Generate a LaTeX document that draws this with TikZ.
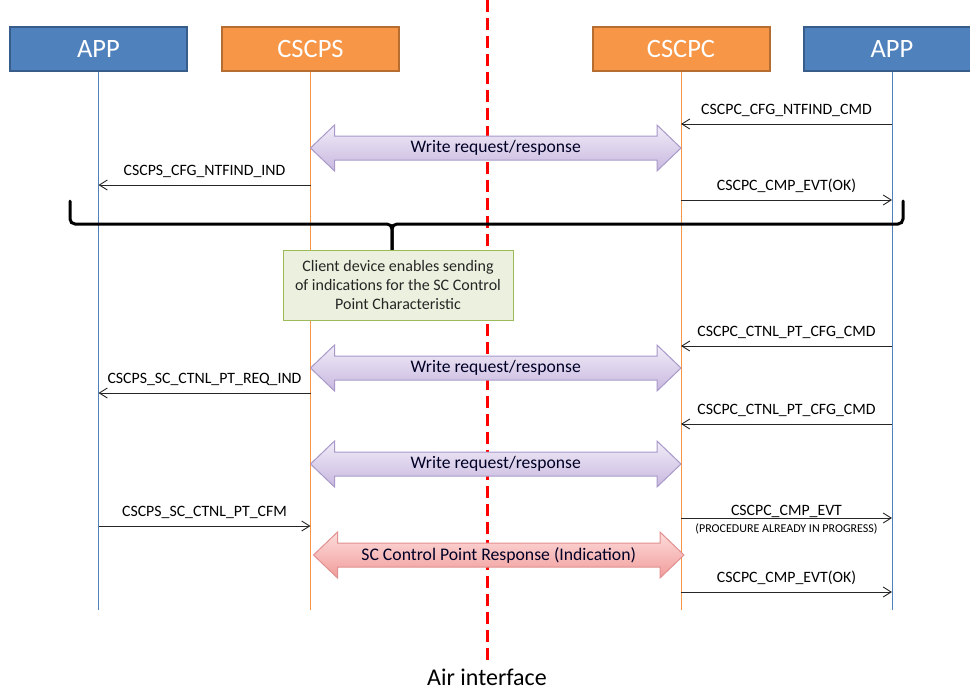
\documentclass[tikz,border=0pt]{standalone}
\usepackage{fontspec}
\setmainfont{Carlito}
\usetikzlibrary{arrows.meta,calc,positioning}
\definecolor{appblue}{HTML}{4F81BD}
\definecolor{appborder}{HTML}{385D8A}
\definecolor{cscorange}{HTML}{F79646}
\definecolor{cscborder}{HTML}{B66D31}
\definecolor{notefill}{HTML}{EBF1DE}
\definecolor{noteborder}{HTML}{9BBB59}
\definecolor{wrborder}{HTML}{A899C9}
\definecolor{wrtop}{HTML}{F1ECF8}
\definecolor{wrbottom}{HTML}{C8B8DF}
\definecolor{indborder}{HTML}{E0908E}
\definecolor{indtop}{HTML}{FDDCDB}
\definecolor{indbottom}{HTML}{F09C9A}
\definecolor{airred}{HTML}{FF0000}

% fat double arrow between two lifelines: #1 style, #2 from, #3 to, #4 text, #5 name
\newcommand\bigarrow[5]{%
  \draw[#1] let \p1=(#2), \p2=(#3) in
    (\p1) -- ++(24,-23) -- ++(0,11) -- ++(\x2-\x1-48pt,0pt) -- ++(0,-11)
    -- (\p2) -- ++(-24,23) -- ++(0,-11) -- ++(\x1-\x2+48pt,0pt) -- ++(0,11) -- cycle;
  \node[#1text](#5) at ($(#2)!.5!(#3)$) {#4};
}

\begin{document}
\begin{tikzpicture}[x=1pt,y=-1pt,% pixel grid, y going down
    every node/.style={
      align=center,  % "\\" breaks lines
      inner sep=0pt
    },
    head/.style={rectangle, minimum width=177pt, minimum height=44pt, line width=2pt,
      text=white, font=\fontsize{26.5}{30}\selectfont},
    apphead/.style={head, draw=appborder, fill=appblue},
    profhead/.style={head, draw=cscborder, fill=cscorange},
    appline/.style={draw=appblue, line width=0.9pt},
    profline/.style={draw=cscorange, line width=0.9pt},
    msg/.style={draw=black!85, line width=0.9pt, -{Straight Barb[length=8pt,width=10pt]}},
    lbl/.style={midway, above=7pt, font=\fontsize{15.8}{18}\selectfont},
    wrarrow/.style={draw=wrborder, line width=1pt, top color=wrtop, bottom color=wrbottom},
    wrarrowtext/.style={font=\fontsize{17.6}{20}\selectfont, text=black!85!blue},
    indarrow/.style={draw=indborder, line width=1pt, top color=indtop, bottom color=indbottom},
    indarrowtext/.style={font=\fontsize{17.7}{20}\selectfont, text=black!85!blue},
    bracepath/.style={draw=black, line width=3pt, line cap=round, rounded corners=5pt},
    note/.style={rectangle, draw=noteborder, fill=notefill, line width=1pt,
      minimum width=230pt, minimum height=70pt, font=\fontsize{16}{19}\selectfont, text=black!85}
  ]
  \useasboundingbox (0,0) rectangle (970,691);

  % air interface
  \node[font=\fontsize{24}{28}\selectfont](air) at (487,677) {Air interface};
  \coordinate (airtop) at (487,0);
  \draw[airred, line width=3pt, dash pattern=on 12pt off 6pt] (airtop) -- ([yshift=5pt]air.north);

  % heads and lifelines
  \node[apphead](app1) at (98.5,49) {APP};
  \node[profhead](cscps) at (310.5,49) {CSCPS};
  \node[profhead](cscpc) at (681,49) {CSCPC};
  \node[apphead](app2) at (892,49) {APP};
  \coordinate (app1end) at (app1 |- 0,610);
  \coordinate (cscpsend) at (cscps |- 0,610);
  \coordinate (cscpcend) at (cscpc |- 0,610);
  \coordinate (app2end) at (app2 |- 0,610);
  \path
    (app1.south) edge[appline] (app1end)
    (cscps.south) edge[profline] (cscpsend)
    (cscpc.south) edge[profline] (cscpcend)
    (app2.south) edge[appline] (app2end)
    ;

  % notification enable
  \path
    (app2 |- 0,124) edge[msg] node[lbl] {CSCPC\_CFG\_NTFIND\_CMD} (cscpc |- 0,124)
    (cscps |- 0,185) edge[msg] node[lbl] {CSCPS\_CFG\_NTFIND\_IND} (app1 |- 0,185)
    (cscpc |- 0,200) edge[msg] node[lbl] {CSCPC\_CMP\_EVT(OK)} (app2 |- 0,200)
    ;
  \bigarrow{wrarrow}{cscps |- 0,148}{cscpc |- 0,148}{Write request/response}{wr1}

  % brace and note
  \draw[bracepath] (70,201) -- (70,224) -- (392,224) -- (392,250);
  \draw[bracepath] (903,201) -- (903,224) -- (392,224) -- (392,250);
  \node[note](note) at (398,285) {Client device enables sending\\of indications for the SC Control\\Point Characteristic};

  % control point
  \path
    (app2 |- 0,346) edge[msg] node[lbl] {CSCPC\_CTNL\_PT\_CFG\_CMD} (cscpc |- 0,346)
    (cscps |- 0,393) edge[msg] node[lbl] {CSCPS\_SC\_CTNL\_PT\_REQ\_IND} (app1 |- 0,393)
    (app2 |- 0,424) edge[msg] node[lbl] {CSCPC\_CTNL\_PT\_CFG\_CMD} (cscpc |- 0,424)
    (app1 |- 0,526) edge[msg] node[lbl] {CSCPS\_SC\_CTNL\_PT\_CFM} (cscps |- 0,526)
    (cscpc |- 0,518) edge[msg] node[lbl, above=0pt] {CSCPC\_CMP\_EVT}
      node[midway, below=5pt, font=\fontsize{12}{14}\selectfont] {(PROCEDURE ALREADY IN PROGRESS)} (app2 |- 0,518)
    (cscpc |- 0,592) edge[msg] node[lbl] {CSCPC\_CMP\_EVT(OK)} (app2 |- 0,592)
    ;
  \bigarrow{wrarrow}{cscps |- 0,368}{cscpc |- 0,368}{Write request/response}{wr2}
  \bigarrow{wrarrow}{cscps |- 0,464}{cscpc |- 0,464}{Write request/response}{wr3}
  \bigarrow{indarrow}{[xshift=3pt]cscps |- 0,555}{[xshift=3pt]cscpc |- 0,555}{SC Control Point Response (Indication)}{ind}
\end{tikzpicture}
\end{document}
